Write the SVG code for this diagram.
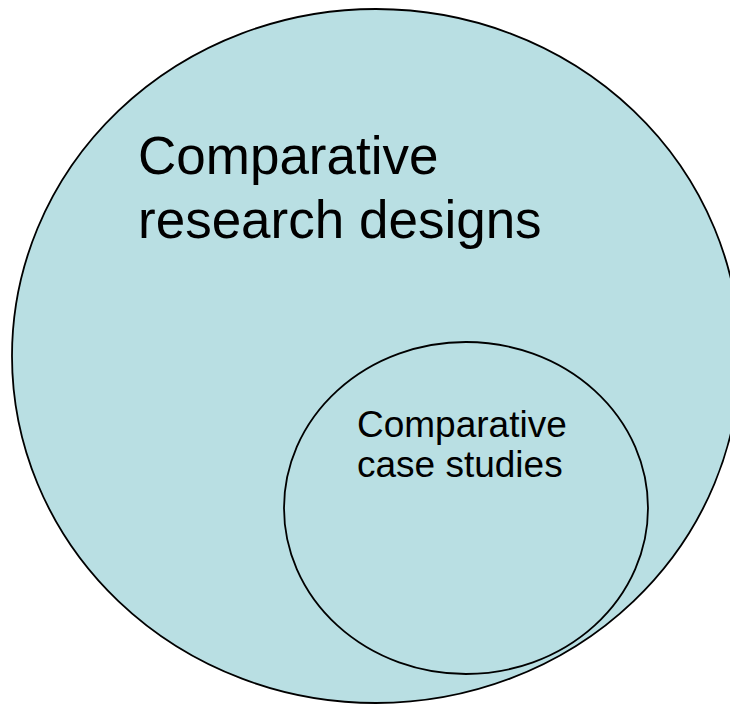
<svg xmlns="http://www.w3.org/2000/svg" width="730" height="704" viewBox="0 0 730 704">
<style>
.shape{fill:#b9dfe3;stroke:#000;stroke-width:1.8}
.t{font-family:"Liberation Sans",Arial,sans-serif;fill:#000}
</style>
<rect width="730" height="704" fill="#fff"/>
<g id="outer">
<ellipse class="shape" cx="376" cy="356" rx="364" ry="347"/>
<text class="t" font-size="53" x="138" y="174">Comparative</text>
<text class="t" font-size="53" x="138" y="238">research designs</text>
</g>
<g id="inner">
<ellipse class="shape" cx="466" cy="508" rx="182" ry="166"/>
<text class="t" font-size="37" x="357" y="437">Comparative</text>
<text class="t" font-size="37" x="357" y="477">case studies</text>
</g>
<g id="connectors"/>
</svg>
